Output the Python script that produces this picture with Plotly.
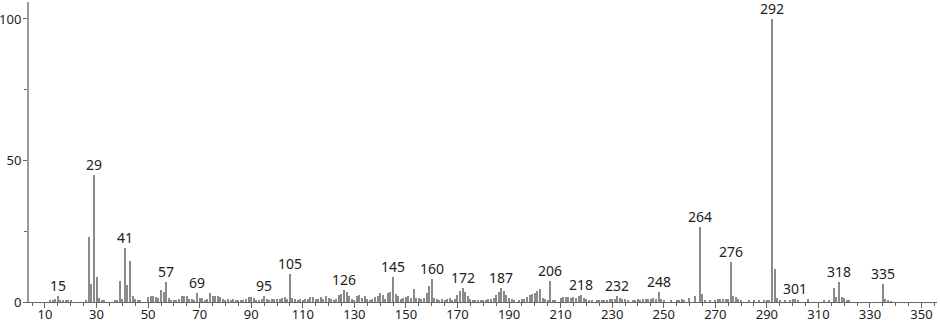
import plotly.graph_objects as go

# m/z values and relative intensities
mz = [12, 13, 14, 15, 16, 17, 18, 19, 20,
      26, 27, 28, 29, 30, 31, 32, 33, 37, 38, 39, 40, 41, 42, 43, 44, 45, 46, 47,
      50, 51, 52, 53, 54, 55, 56, 57, 58, 59, 60, 61, 62, 63, 64, 65, 66, 67, 68, 69, 70,
      71, 72, 73, 74, 75, 76, 77, 78, 79, 80, 81, 82, 83, 84, 85, 86, 87, 88, 89, 90,
      91, 92, 93, 94, 95, 96, 97, 98, 99, 100, 101, 102, 103, 104, 105, 106, 107, 108, 109, 110,
      111, 112, 113, 114, 115, 116, 117, 118, 119, 120, 121, 122, 123, 124, 125, 126, 127, 128, 129, 130,
      131, 132, 133, 134, 135, 136, 137, 138, 139, 140, 141, 142, 143, 144, 145, 146, 147, 148, 149, 150,
      151, 152, 153, 154, 155, 156, 157, 158, 159, 160, 161, 162, 163, 164, 165, 166, 167, 168, 169, 170,
      171, 172, 173, 174, 175, 176, 177, 178, 179, 180, 181, 182, 183, 184, 185, 186, 187, 188, 189, 190,
      191, 192, 194, 195, 196, 197, 198, 199, 200, 201, 202, 203, 204, 205, 206, 207, 208, 210,
      211, 212, 213, 214, 215, 216, 217, 218, 219, 220, 221, 222, 224, 225, 226, 227, 228, 229, 230,
      231, 232, 233, 234, 235, 236, 238, 239, 240, 241, 242, 243, 244, 245, 246, 247, 248, 249, 250,
      253, 255, 256, 257, 258, 260, 262, 264, 265, 266, 268, 270, 271, 272, 273, 274, 275, 276, 277, 278,
      279, 280, 283, 285, 287, 289, 290, 291, 292, 293, 294, 295, 297, 299, 300, 301, 302, 306,
      312, 314, 316, 317, 318, 319, 320, 321, 322, 335, 336, 337, 338]
intensity = [0.5, 0.7, 1.0, 2.0, 0.8, 0.7, 0.8, 0.6, 0.5,
             0.8, 23, 6.2, 45, 8.8, 1.5, 0.5, 0.4, 0.6, 0.8, 7.3, 1.0, 19, 6.0, 14.6, 2.0, 1.2, 0.8, 0.5,
             1.6, 2.0, 2.1, 1.8, 1.5, 4.1, 3.4, 7.0, 1.3, 0.8, 0.8, 0.8, 1.2, 2.0, 2.0, 2.0, 1.2, 1.0, 0.6, 3.2, 1.5,
             1.3, 0.5, 1.0, 3.3, 2.2, 2.0, 2.0, 1.8, 1.0, 0.6, 1.0, 0.7, 1.0, 0.6, 0.8, 0.5, 0.8, 1.2, 1.6, 1.8,
             1.4, 0.8, 0.8, 0.9, 2.1, 0.9, 0.8, 1.0, 1.0, 1.2, 1.0, 1.5, 1.8, 1.2, 9.9, 1.5, 1.0, 0.8, 1.2, 0.6,
             1.0, 1.2, 1.8, 1.6, 1.2, 1.0, 1.6, 1.2, 2.0, 1.4, 1.2, 0.8, 1.0, 2.5, 2.7, 4.1, 3.4, 2.0, 1.0, 0.8,
             2.2, 2.5, 1.5, 2.0, 1.0, 0.8, 1.0, 1.8, 2.0, 3.1, 2.5, 1.2, 3.1, 3.4, 8.7, 2.7, 2.2, 1.2, 1.5, 1.8,
             2.0, 1.5, 4.5, 1.4, 1.5, 1.0, 1.3, 3.1, 5.8, 8.1, 1.5, 1.0, 0.8, 1.0, 0.8, 1.2, 1.5, 0.8, 1.0, 2.5,
             4.0, 4.8, 3.6, 2.0, 1.2, 0.8, 0.6, 0.8, 0.6, 0.7, 0.8, 1.0, 1.0, 1.5, 2.5, 3.6, 5.0, 4.0, 2.5, 1.5,
             1.0, 0.6, 0.6, 1.0, 1.2, 1.6, 2.3, 2.8, 3.3, 3.8, 4.6, 1.5, 1.0, 0.8, 7.5, 0.8, 0.5, 1.3,
             1.8, 1.8, 1.8, 1.5, 1.8, 1.5, 2.0, 2.3, 1.5, 1.0, 0.8, 0.6, 0.5, 0.7, 0.8, 0.6, 0.8, 1.0, 1.0,
             1.2, 2.0, 1.5, 1.2, 1.0, 0.6, 0.6, 0.8, 1.0, 0.8, 1.0, 1.0, 1.2, 1.0, 1.5, 1.2, 3.5, 1.0, 0.5,
             0.5, 0.8, 0.8, 1.0, 0.8, 1.5, 2.0, 26.5, 2.8, 0.8, 0.8, 0.8, 1.0, 1.0, 1.0, 1.2, 1.0, 14.0, 2.1, 1.9,
             1.0, 0.5, 0.6, 0.6, 0.8, 0.6, 0.8, 0.6, 100, 11.7, 1.3, 0.5, 0.5, 0.7, 1.0, 1.0, 0.7, 1.0,
             0.4, 0.5, 4.8, 1.9, 7.0, 1.7, 1.5, 0.8, 0.4, 6.2, 1.0, 0.6, 0.3]

# peaks that carry an m/z label
labelled = [15, 29, 41, 57, 69, 95, 105, 126, 145, 160, 172, 187, 206, 218,
            232, 248, 264, 276, 292, 301, 318, 335]

x_ticks = list(range(10, 351, 20))
y_ticks = [0, 50, 100]

FONT = "Noto Sans"
lookup = dict(zip(mz, intensity))

fig = go.Figure()
fig.add_trace(go.Bar(
    x=mz, y=intensity, width=0.42,
    marker=dict(color="#8a8a8a", line=dict(width=0)),
    hoverinfo="x+y",
))

for m in labelled:
    fig.add_annotation(
        x=m, y=lookup[m], text=str(m), showarrow=False,
        yanchor="bottom", xanchor="center", yshift=0, borderpad=0,
        font=dict(family=FONT, size=14, color="#222222"),
    )

fig.update_layout(
    width=940, height=324,
    margin=dict(l=29, r=3, t=2, b=22, autoexpand=False),
    paper_bgcolor="white", plot_bgcolor="white",
    showlegend=False, bargap=0,
    font=dict(family=FONT, size=13, color="#222222"),
)
fig.update_xaxes(
    range=[3.8, 356], showgrid=False, zeroline=False, automargin=False,
    showline=True, linecolor="#666666", linewidth=1,
    tickmode="array", tickvals=x_ticks, ticktext=[str(v) for v in x_ticks],
    ticks="outside", ticklen=5, tickcolor="#666666", ticklabelstandoff=-5,
    minor=dict(tickmode="linear", tick0=0, dtick=5, ticks="outside", ticklen=3, tickcolor="#666666"),
    tickfont=dict(family=FONT, size=13, color="#222222"),
)
fig.update_yaxes(
    range=[0, 106], showgrid=False, zeroline=False, automargin=False,
    showline=True, linecolor="#999999", linewidth=2,
    tickmode="array", tickvals=y_ticks, ticktext=[str(v) for v in y_ticks],
    ticks="outside", ticklen=4, tickcolor="#666666", ticklabelstandoff=-1,
    minor=dict(tickmode="array", tickvals=[25, 75], ticks="outside", ticklen=3, tickcolor="#666666"),
    tickfont=dict(family=FONT, size=13, color="#222222"),
)

fig.write_html("out.html")
